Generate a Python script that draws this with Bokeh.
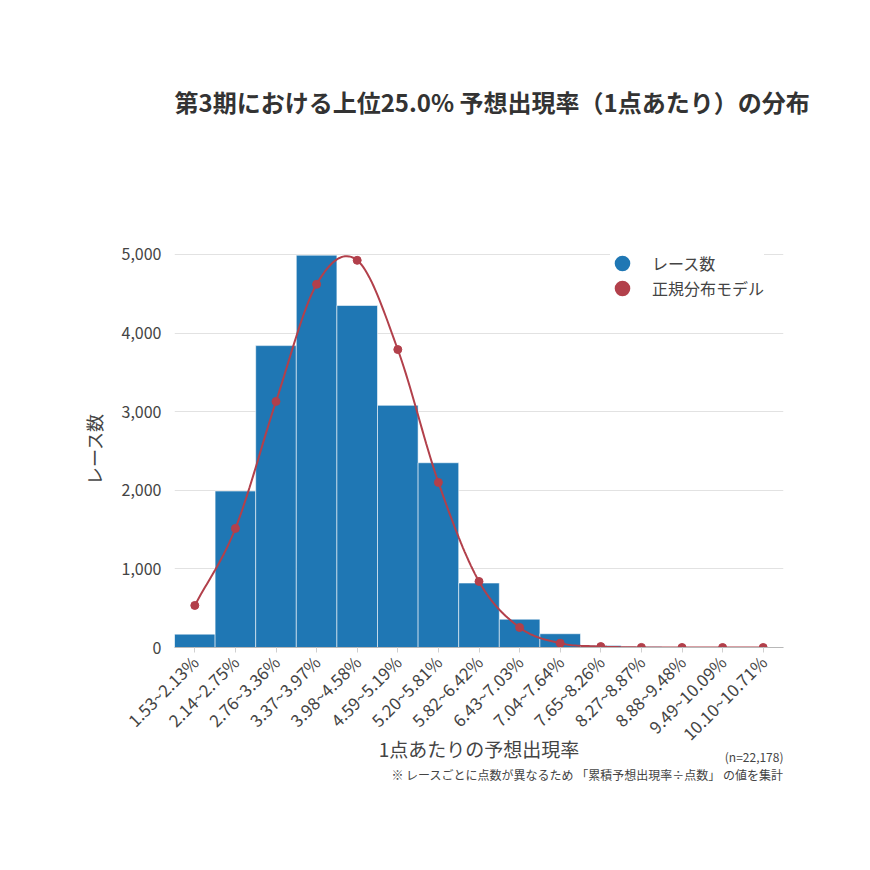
import numpy as np
from bokeh.plotting import figure
from bokeh.models import (FactorRange, Range1d, FixedTicker, NumeralTickFormatter,
                          Legend, LegendItem, Title, ColumnDataSource)
from bokeh.embed import file_html
from bokeh.resources import INLINE

categories = ["1.53~2.13%", "2.14~2.75%", "2.76~3.36%", "3.37~3.97%", "3.98~4.58%",
              "4.59~5.19%", "5.20~5.81%", "5.82~6.42%", "6.43~7.03%", "7.04~7.64%",
              "7.65~8.26%", "8.27~8.87%", "8.88~9.48%", "9.49~10.09%", "10.10~10.71%"]
race_counts = [170, 1990, 3840, 4990, 4350, 3080, 2350, 820, 360, 175, 25, 8, 5, 3, 2]
normal_model = [535, 1515, 3130, 4620, 4925, 3790, 2100, 840, 255, 55, 12, 1, 0, 0, 0]
y_ticks = [0, 1000, 2000, 3000, 4000, 5000]

title_text = "第3期における上位25.0% 予想出現率（1点あたり）の分布"
x_label = "1点あたりの予想出現率"
y_label = "レース数"
n_note = "(n=22,178)"
foot_note = "※ レースごとに点数が異なるため 「累積予想出現率÷点数」 の値を集計"

FONT = "Noto Sans CJK JP"
BAR_COLOR = "#1f77b4"
LINE_COLOR = "#b2404b"

p = figure(width=862, height=862, x_range=FactorRange(*categories),
           y_range=Range1d(0, 5050), output_backend="svg", toolbar_location=None,
           min_border_left=174, min_border_right=79, min_border_top=250,
           min_border_bottom=215)
p.title = None
p.outline_line_color = None
p.background_fill_color = "white"
p.border_fill_color = "white"

# spacer between frame and title, then the title itself
p.add_layout(Title(text=" ", text_font_size="1px", standoff=53), "above")
p.add_layout(Title(text=title_text, align="left", text_font=FONT,
                   text_font_size="24px", text_font_style="bold", text_color="#333333",
                   standoff=152), "above")

src = ColumnDataSource(dict(cat=categories, cnt=race_counts, mdl=normal_model))
p.vbar(x="cat", top="cnt", width=1.0, source=src, fill_color=BAR_COLOR,
       line_color="white", line_alpha=0.55, line_width=1)

# smooth (Catmull-Rom) curve through the model points, for drawing the line only
xs = np.arange(len(normal_model)) + 0.5
ys = np.array(normal_model, dtype=float)
px = np.concatenate([[2 * xs[0] - xs[1]], xs, [2 * xs[-1] - xs[-2]]])
py = np.concatenate([[2 * ys[0] - ys[1]], ys, [2 * ys[-1] - ys[-2]]])
cx, cy = [], []
for i in range(1, len(px) - 2):
    for t in np.linspace(0, 1, 20, endpoint=False):
        t2, t3 = t * t, t * t * t
        for arr, out in ((px, cx), (py, cy)):
            p0, p1, p2, p3 = arr[i - 1], arr[i], arr[i + 1], arr[i + 2]
            out.append(0.5 * ((2 * p1) + (-p0 + p2) * t + (2 * p0 - 5 * p1 + 4 * p2 - p3) * t2
                              + (-p0 + 3 * p1 - 3 * p2 + p3) * t3))
cx.append(xs[-1]); cy.append(ys[-1])
p.line(cx, cy, line_color=LINE_COLOR, line_width=2)
p.scatter(x="cat", y="mdl", source=src, size=8, fill_color=LINE_COLOR, line_color=LINE_COLOR)

# legend proxies (circles), placed out of view so only the legend shows them
r1 = p.scatter(x=[categories[0]], y=[-100000], size=16, marker="circle",
               fill_color=BAR_COLOR, line_color=BAR_COLOR, line_width=6)
r2 = p.scatter(x=[categories[0]], y=[-100000], size=16, marker="circle",
               fill_color=LINE_COLOR, line_color=LINE_COLOR, line_width=6)
legend = Legend(items=[LegendItem(label="レース数", renderers=[r1]),
                       LegendItem(label="正規分布モデル", renderers=[r2])],
                location=(436, 347), margin=0, padding=0, spacing=1,
                glyph_width=24, glyph_height=24, label_standoff=18,
                label_text_font=FONT, label_text_font_size="16px",
                label_text_color="#444444", border_line_color=None,
                background_fill_color="white", background_fill_alpha=1.0)
p.add_layout(legend)

# axes
p.xgrid.grid_line_color = None
p.ygrid.grid_line_color = "#e2e2e2"
p.ygrid.grid_line_width = 1
p.yaxis.ticker = FixedTicker(ticks=y_ticks)
p.yaxis.formatter = NumeralTickFormatter(format="0,0")
p.yaxis.axis_line_color = None
p.yaxis.major_tick_line_color = None
p.yaxis.minor_tick_line_color = None
p.yaxis.major_label_standoff = 7
p.yaxis.major_label_text_font = FONT
p.yaxis.major_label_text_font_size = "16px"
p.yaxis.major_label_text_color = "#444444"
p.yaxis.axis_label = y_label
p.yaxis.axis_label_text_font = FONT
p.yaxis.axis_label_text_font_size = "18px"
p.yaxis.axis_label_text_font_style = "normal"
p.yaxis.axis_label_text_color = "#444444"
p.yaxis.axis_label_standoff = 12

p.xaxis.axis_line_color = "#b8b8b8"
p.xaxis.axis_line_width = 1
p.xaxis.major_tick_line_color = "#d0d0d0"
p.xaxis.major_tick_out = 5
p.xaxis.major_tick_in = 0
p.xaxis.major_label_orientation = np.pi / 4
p.xaxis.major_label_standoff = 6
p.xaxis.major_label_text_font = FONT
p.xaxis.major_label_text_font_size = "17px"
p.xaxis.major_label_text_color = "#444444"
p.xaxis.axis_label = x_label
p.xaxis.axis_label_text_font = FONT
p.xaxis.axis_label_text_font_size = "19px"
p.xaxis.axis_label_text_font_style = "normal"
p.xaxis.axis_label_text_color = "#444444"
p.xaxis.axis_label_standoff = -22

p.add_layout(Title(text=n_note, align="right", vertical_align="top", text_font=FONT,
                   text_font_size="12px", text_font_style="normal", text_color="#444444",
                   standoff=-34), "below")
p.add_layout(Title(text=foot_note, align="right", text_font=FONT, text_font_size="12px",
                   text_font_style="normal", text_color="#444444", standoff=-2), "below")

open("out.html", "w").write(file_html(p, INLINE))
